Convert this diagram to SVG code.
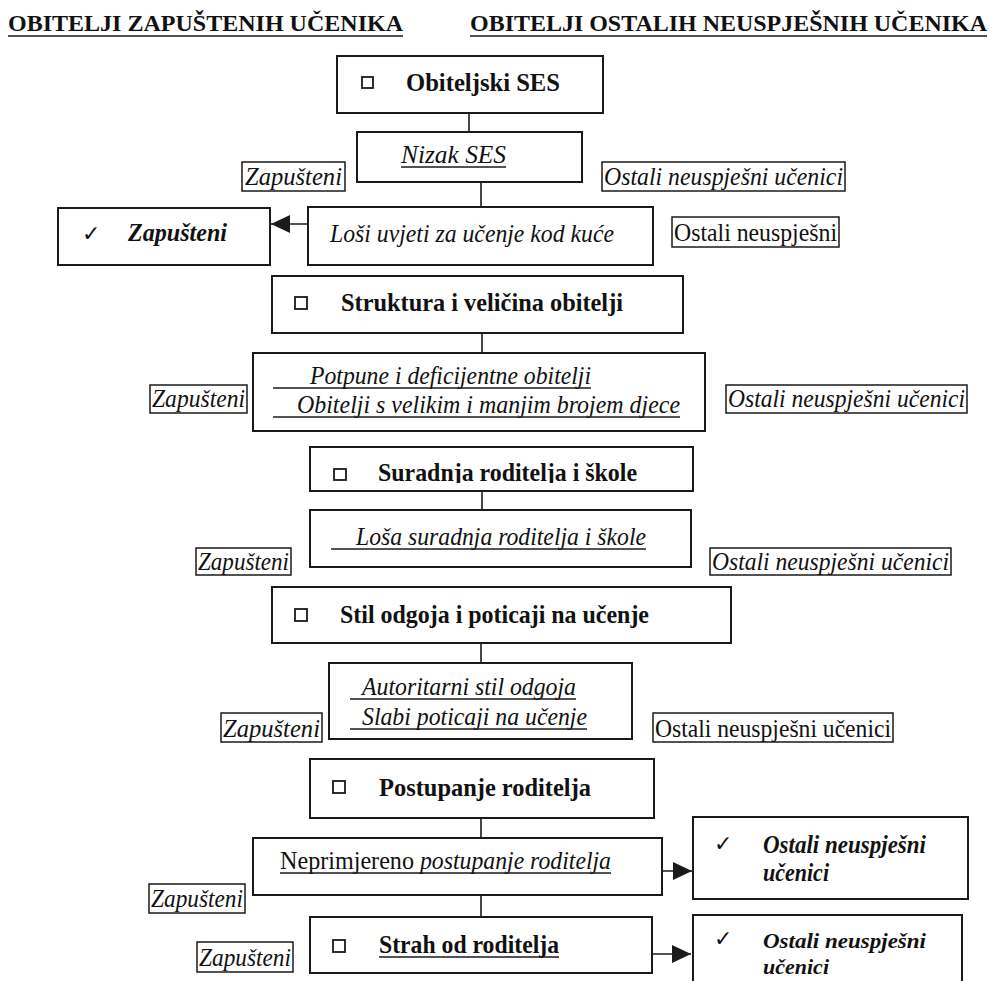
<svg xmlns="http://www.w3.org/2000/svg" width="991" height="981" viewBox="0 0 991 981">
<style>
.bg{fill:#ffffff}
.box{fill:#ffffff;stroke:#1a1a1a;stroke-width:2}
.lbl{fill:none;stroke:#1a1a1a;stroke-width:1.5}
.cb{fill:none;stroke:#1a1a1a;stroke-width:1.8}
.ul{stroke:#1a1a1a;stroke-width:1.3}
.con{stroke:#1a1a1a;stroke-width:1.6;fill:none}
text{font-family:"Liberation Serif","Times New Roman",serif;fill:#111;font-size:26px}
.title{font-weight:bold;font-size:24px}
.b{font-weight:bold;font-size:25px}
.i{font-style:italic}
.bi{font-weight:bold;font-style:italic;font-size:25px}
.bis{font-weight:bold;font-style:italic;font-size:22px}
.chk{font-family:"DejaVu Sans",sans-serif;font-size:22px}
</style>
<defs>
<marker id="ah" markerUnits="userSpaceOnUse" markerWidth="20" markerHeight="18" refX="19" refY="9" orient="auto">
<path d="M0,0 L19,9 L0,18 z" fill="#1a1a1a"/>
</marker>
<clipPath id="clipF"><rect x="310" y="447" width="383" height="36"/></clipPath>
</defs>
<rect class="bg" x="0" y="0" width="991" height="981"/>

<g id="titles">
<text class="title" x="8" y="31" textLength="395" lengthAdjust="spacingAndGlyphs">OBITELJI ZAPUŠTENIH UČENIKA</text>
<line class="ul" x1="8" y1="36" x2="403" y2="36"/>
<text class="title" x="470" y="31" textLength="517" lengthAdjust="spacingAndGlyphs">OBITELJI OSTALIH NEUSPJEŠNIH UČENIKA</text>
<line class="ul" x1="470" y1="36" x2="987" y2="36"/>
</g>

<g id="connectors">
<line class="con" x1="469" y1="113" x2="469" y2="132"/>
<line class="con" x1="481" y1="182" x2="481" y2="207"/>
<line class="con" x1="308" y1="224" x2="271" y2="224" marker-end="url(#ah)"/>
<line class="con" x1="482" y1="333" x2="482" y2="353"/>
<line class="con" x1="482" y1="491" x2="482" y2="510"/>
<line class="con" x1="481" y1="643" x2="481" y2="663"/>
<line class="con" x1="481" y1="818" x2="481" y2="838"/>
<line class="con" x1="655" y1="871" x2="692" y2="871" marker-end="url(#ah)"/>
<line class="con" x1="481" y1="895" x2="481" y2="917"/>
<line class="con" x1="633" y1="954" x2="691" y2="954" marker-end="url(#ah)"/>
</g>

<g id="obiteljski-ses">
<rect class="box" x="337" y="56" width="266" height="57"/>
<rect class="cb" x="362" y="77" width="11" height="11"/>
<text class="b" x="406" y="91" textLength="154" lengthAdjust="spacingAndGlyphs">Obiteljski SES</text>
</g>

<g id="nizak-ses">
<rect class="box" x="357" y="132" width="225" height="50"/>
<text class="i" x="401" y="163" textLength="105" lengthAdjust="spacingAndGlyphs">Nizak SES</text>
<line class="ul" x1="401" y1="167" x2="506" y2="167"/>
</g>
<g id="lbl-z1">
<rect class="lbl" x="242" y="162" width="103" height="29"/>
<text class="i" x="245" y="185" textLength="97" lengthAdjust="spacingAndGlyphs">Zapušteni</text>
</g>
<g id="lbl-o1">
<rect class="lbl" x="602" y="162" width="243" height="29"/>
<text class="i" x="604" y="185" textLength="239" lengthAdjust="spacingAndGlyphs">Ostali neuspješni učenici</text>
</g>

<g id="zapusteni-result">
<rect class="box" x="58" y="208" width="212" height="57"/>
<text class="chk" x="82" y="241">✓</text>
<text class="bi" x="128" y="241" textLength="99" lengthAdjust="spacingAndGlyphs">Zapušteni</text>
</g>

<g id="losi-uvjeti">
<rect class="box" x="308" y="207" width="345" height="58"/>
<text class="i" x="330" y="242" textLength="284" lengthAdjust="spacingAndGlyphs">Loši uvjeti za učenje kod kuće</text>
</g>
<g id="lbl-o2">
<rect class="lbl" x="672" y="217" width="167" height="30"/>
<text x="674" y="241" textLength="163" lengthAdjust="spacingAndGlyphs">Ostali neuspješni</text>
</g>

<g id="struktura">
<rect class="box" x="272" y="276" width="411" height="57"/>
<rect class="cb" x="295" y="297" width="12" height="12"/>
<text class="b" x="341" y="311" textLength="282" lengthAdjust="spacingAndGlyphs">Struktura  i veličina obitelji</text>
</g>

<g id="potpune">
<rect class="box" x="253" y="353" width="452" height="78"/>
<text class="i" x="310" y="384" textLength="281" lengthAdjust="spacingAndGlyphs">Potpune i deficijentne obitelji</text>
<line class="ul" x1="273" y1="388" x2="591" y2="388"/>
<text class="i" x="297" y="413" textLength="383" lengthAdjust="spacingAndGlyphs">Obitelji s velikim i manjim brojem djece</text>
<line class="ul" x1="273" y1="417" x2="680" y2="417"/>
</g>
<g id="lbl-z2">
<rect class="lbl" x="150" y="385" width="97" height="28"/>
<text class="i" x="152" y="407" textLength="93" lengthAdjust="spacingAndGlyphs">Zapušteni</text>
</g>
<g id="lbl-o3">
<rect class="lbl" x="726" y="385" width="241" height="28"/>
<text class="i" x="728" y="407" textLength="237" lengthAdjust="spacingAndGlyphs">Ostali neuspješni učenici</text>
</g>

<g id="suradnja">
<rect class="box" x="310" y="447" width="383" height="44"/>
<rect class="cb" x="334" y="469" width="12" height="11"/>
<text class="b" x="378" y="481" textLength="259" lengthAdjust="spacingAndGlyphs" clip-path="url(#clipF)">Suradnja roditelja i škole</text>
</g>

<g id="losa-suradnja">
<rect class="box" x="310" y="510" width="381" height="57"/>
<text class="i" x="356" y="545" textLength="290" lengthAdjust="spacingAndGlyphs">Loša suradnja roditelja i škole</text>
<line class="ul" x1="331" y1="549" x2="646" y2="549"/>
</g>
<g id="lbl-z3">
<rect class="lbl" x="196" y="548" width="95" height="27"/>
<text class="i" x="198" y="570" textLength="91" lengthAdjust="spacingAndGlyphs">Zapušteni</text>
</g>
<g id="lbl-o4">
<rect class="lbl" x="710" y="548" width="241" height="27"/>
<text class="i" x="712" y="570" textLength="237" lengthAdjust="spacingAndGlyphs">Ostali neuspješni učenici</text>
</g>

<g id="stil-odgoja">
<rect class="box" x="272" y="587" width="459" height="56"/>
<rect class="cb" x="295" y="609" width="12" height="12"/>
<text class="b" x="340" y="623" textLength="309" lengthAdjust="spacingAndGlyphs">Stil odgoja i poticaji na učenje</text>
</g>

<g id="autoritarni">
<rect class="box" x="329" y="663" width="303" height="76"/>
<text class="i" x="362" y="695" textLength="214" lengthAdjust="spacingAndGlyphs">Autoritarni stil odgoja</text>
<line class="ul" x1="350" y1="699" x2="576" y2="699"/>
<text class="i" x="362" y="725" textLength="225" lengthAdjust="spacingAndGlyphs">Slabi poticaji na učenje</text>
<line class="ul" x1="350" y1="729" x2="587" y2="729"/>
</g>
<g id="lbl-z4">
<rect class="lbl" x="221" y="713" width="101" height="29"/>
<text class="i" x="223" y="737" textLength="97" lengthAdjust="spacingAndGlyphs">Zapušteni</text>
</g>
<g id="lbl-o5">
<rect class="lbl" x="653" y="713" width="240" height="29"/>
<text x="655" y="737" textLength="236" lengthAdjust="spacingAndGlyphs">Ostali neuspješni učenici</text>
</g>

<g id="postupanje">
<rect class="box" x="310" y="759" width="344" height="59"/>
<rect class="cb" x="333" y="781" width="12" height="12"/>
<text class="b" x="379" y="796" textLength="212" lengthAdjust="spacingAndGlyphs">Postupanje  roditelja</text>
</g>

<g id="neprimjereno">
<rect class="box" x="253" y="838" width="409" height="57"/>
<text x="280" y="869" textLength="134" lengthAdjust="spacingAndGlyphs">Neprimjereno</text>
<text class="i" x="420" y="869" textLength="191" lengthAdjust="spacingAndGlyphs">postupanje roditelja</text>
<line class="ul" x1="280" y1="873" x2="611" y2="873"/>
</g>

<g id="ostali-result-1">
<rect class="box" x="693" y="817" width="275" height="82"/>
<text class="chk" x="714" y="851">✓</text>
<text class="bi" x="763" y="853" textLength="163" lengthAdjust="spacingAndGlyphs">Ostali neuspješni</text>
<text class="bi" x="763" y="881" textLength="66" lengthAdjust="spacingAndGlyphs">učenici</text>
</g>

<g id="lbl-z5">
<rect class="lbl" x="149" y="884" width="96" height="29"/>
<text class="i" x="151" y="907" textLength="92" lengthAdjust="spacingAndGlyphs">Zapušteni</text>
</g>

<g id="strah">
<rect class="box" x="310" y="917" width="342" height="56"/>
<rect class="cb" x="333" y="940" width="12" height="12"/>
<text class="b" x="379" y="953" textLength="180" lengthAdjust="spacingAndGlyphs">Strah od roditelja</text>
<line class="ul" x1="379" y1="957" x2="559" y2="957"/>
</g>
<g id="lbl-z6">
<rect class="lbl" x="197" y="942" width="96" height="30"/>
<text class="i" x="199" y="966" textLength="92" lengthAdjust="spacingAndGlyphs">Zapušteni</text>
</g>

<g id="ostali-result-2">
<rect class="box" x="693" y="915" width="269" height="90"/>
<text class="chk" x="714" y="946">✓</text>
<text class="bis" x="763" y="948" textLength="163" lengthAdjust="spacingAndGlyphs">Ostali neuspješni</text>
<text class="bis" x="763" y="974" textLength="66" lengthAdjust="spacingAndGlyphs">učenici</text>
</g>
</svg>
